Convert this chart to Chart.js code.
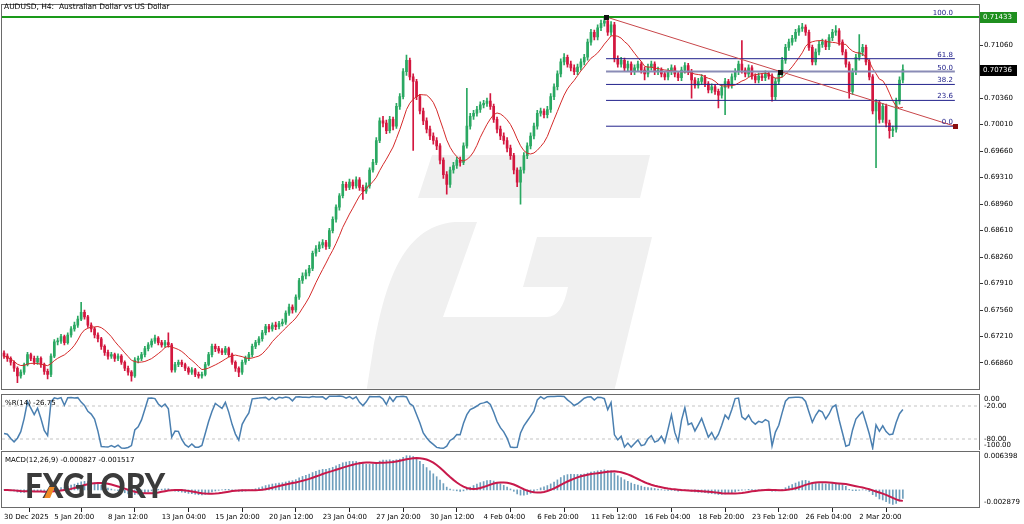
<!DOCTYPE html>
<html>
<head>
<meta charset="utf-8">
<script src="https://cdn.jsdelivr.net/npm/chart.js@4.4.1/dist/chart.umd.min.js"></script>
<style>
html,body{margin:0;padding:0;background:#fff;}
body{width:1024px;height:524px;position:relative;overflow:hidden;}
canvas{position:absolute;left:0;}
#main{top:0;} #wpr{top:394px;} #macdc{top:450px;}
</style>
</head>
<body>
<canvas id="main" width="1024" height="394"></canvas>
<canvas id="wpr" width="1024" height="56"></canvas>
<canvas id="macdc" width="1024" height="74"></canvas>
<script>
// ===== DATA (AUDUSD H4) =====
const open = [
.6699,.6695,.6692,.6687,.6679,.6669,.6674,.6684,.6697,.6692,
.6687,.6692,.6684,.6675,.6671,.6695,.6714,.6715,.6721,.6713,
.6723,.6731,.6736,.6744,.6753,.6747,.6736,.6731,.6723,.6718,
.6708,.6700,.6695,.6697,.6692,.6695,.6687,.6679,.6674,.6669,
.6690,.6692,.6697,.6705,.6710,.6715,.6719,.6713,.6710,.6713,
.6710,.6677,.6684,.6687,.6684,.6679,.6674,.6677,.6671,.6669,
.6671,.6684,.6697,.6708,.6705,.6702,.6700,.6705,.6697,.6687,
.6679,.6674,.6687,.6692,.6697,.6708,.6713,.6718,.6726,.6734,
.6731,.6736,.6734,.6738,.6740,.6752,.6760,.6756,.6773,.6795,
.6801,.6805,.6811,.6831,.6837,.6842,.6845,.6840,.6861,.6876,
.6892,.6907,.6922,.6918,.6925,.6920,.6928,.6918,.6913,.6920,
.6941,.6951,.6980,.7006,.7003,.6993,.7008,.6999,.7025,.7038,
.7071,.7086,.7064,.7058,.7038,.7019,.7006,.6995,.6986,.6980,
.6973,.6954,.6935,.6922,.6941,.6947,.6954,.6951,.6973,.6999,
.7012,.7016,.7021,.7027,.7029,.7032,.7025,.7008,.6995,.6986,
.6980,.6970,.6960,.6941,.6925,.6941,.6960,.6973,.6986,.6999,
.7016,.7019,.7014,.7021,.7038,.7051,.7068,.7084,.7090,.7081,
.7076,.7071,.7077,.7084,.7090,.7110,.7123,.7117,.7129,.7135,
.7138,.7123,.7133,.7088,.7081,.7086,.7076,.7081,.7071,.7076,
.7081,.7073,.7068,.7077,.7081,.7071,.7073,.7068,.7064,.7071,
.7076,.7068,.7063,.7073,.7079,.7071,.7060,.7053,.7058,.7063,
.7055,.7047,.7051,.7045,.7040,.7050,.7058,.7053,.7064,.7071,
.7081,.7073,.7068,.7076,.7065,.7060,.7065,.7063,.7068,.7065,
.7038,.7058,.7068,.7086,.7103,.7110,.7115,.7123,.7128,.7130,
.7123,.7103,.7084,.7097,.7107,.7110,.7104,.7116,.7123,.7125,
.7110,.7097,.7081,.7045,.7071,.7090,.7097,.7103,.7084,.7064,
.7019,.7030,.7008,.7025,.7003,.6993,.6995,.7032,.7060];
const high = [
.6702,.6698,.6694,.6689,.6681,.6677,.6686,.6700,.6699,.6695,
.6695,.6694,.6686,.6678,.6698,.6717,.6719,.6724,.6723,.6726,
.6734,.6740,.6748,.6766,.6756,.6749,.6739,.6733,.6726,.6720,
.6710,.6703,.6700,.6699,.6698,.6697,.6689,.6682,.6676,.6693,
.6695,.6700,.6708,.6713,.6718,.6723,.6721,.6716,.6716,.6726,
.6712,.6687,.6690,.6690,.6686,.6681,.6680,.6679,.6674,.6674,
.6687,.6700,.6711,.6711,.6708,.6705,.6708,.6707,.6699,.6689,
.6681,.6690,.6695,.6700,.6711,.6716,.6721,.6729,.6737,.6737,
.6739,.6740,.6741,.6744,.6755,.6764,.6763,.6776,.6798,.6805,
.6809,.6815,.6834,.6841,.6846,.6849,.6848,.6864,.6879,.6895,
.6910,.6926,.6925,.6929,.6928,.6932,.6931,.6921,.6924,.6944,
.6955,.6984,.7010,.7012,.7007,.7012,.7011,.7029,.7042,.7075,
.7093,.7089,.7068,.7061,.7041,.7023,.7010,.6999,.6990,.6984,
.6976,.6957,.6939,.6945,.6951,.6958,.6958,.6977,.7049,.7016,
.7020,.7025,.7031,.7033,.7036,.7042,.7028,.7011,.6999,.6990,
.6984,.6974,.6963,.6944,.6945,.6964,.6977,.6990,.7003,.7020,
.7023,.7022,.7025,.7042,.7055,.7072,.7088,.7095,.7093,.7085,
.7080,.7081,.7088,.7094,.7114,.7127,.7126,.7133,.7139,.71433,
.7141,.7137,.7136,.7092,.7090,.7089,.7085,.7084,.7080,.7085,
.7084,.7077,.7081,.7085,.7084,.7077,.7076,.7071,.7075,.7080,
.7079,.7071,.7077,.7083,.7082,.7074,.7063,.7062,.7067,.7066,
.7058,.7055,.7054,.7048,.7054,.7062,.7061,.7068,.7075,.7085,
.7112,.7076,.7080,.7079,.7068,.7069,.7068,.7072,.7071,.7068,
.7062,.7072,.7090,.7107,.7114,.7119,.7127,.7132,.7135,.7133,
.7126,.7106,.7101,.7111,.7114,.7113,.7120,.7127,.7132,.7128,
.7113,.7100,.7084,.7075,.7094,.7120,.7107,.7106,.7087,.7067,
.7034,.7033,.7029,.7028,.7007,.6999,.7036,.7064,.7080];
const low = [
.6692,.6688,.6683,.6675,.6660,.6666,.6671,.6682,.6689,.6684,
.6684,.6680,.6671,.6665,.6668,.6693,.6710,.6712,.6710,.6711,
.6720,.6728,.6733,.6742,.6744,.6733,.6727,.6719,.6714,.6704,
.6696,.6691,.6692,.6688,.6689,.6684,.6676,.6670,.6662,.6667,
.6686,.6689,.6694,.6702,.6707,.6712,.6710,.6707,.6707,.6707,
.6674,.6674,.6681,.6681,.6676,.6671,.6671,.6668,.6666,.6666,
.6669,.6682,.6694,.6701,.6699,.6697,.6697,.6694,.6684,.6675,
.6668,.6671,.6684,.6689,.6694,.6705,.6710,.6715,.6723,.6727,
.6728,.6730,.6731,.6735,.6737,.6749,.6752,.6753,.6770,.6791,
.6797,.6801,.6808,.6827,.6833,.6838,.6836,.6837,.6858,.6872,
.6888,.6904,.6914,.6915,.6916,.6917,.6914,.6902,.6910,.6917,
.6938,.6948,.6977,.6998,.6989,.6990,.6994,.6996,.7021,.7035,
.7066,.7060,.6967,.7034,.7015,.7001,.6990,.6981,.6975,.6968,
.6949,.6930,.6909,.6918,.6937,.6943,.6946,.6948,.6970,.6995,
.7008,.7012,.7017,.7023,.7025,.7021,.7004,.6990,.6981,.6975,
.6965,.6955,.6936,.6919,.6896,.6937,.6956,.6969,.6982,.6995,
.7012,.7010,.7010,.7017,.7034,.7047,.7064,.7080,.7077,.7072,
.7067,.7067,.7073,.7080,.7086,.7106,.7113,.7113,.7125,.7131,
.7119,.7119,.7084,.7077,.7077,.7072,.7072,.7067,.7067,.7072,
.7069,.7060,.7064,.7073,.7067,.7067,.7064,.7060,.7060,.7067,
.7064,.7059,.7059,.7069,.7067,.7036,.7049,.7049,.7054,.7051,
.7043,.7043,.7041,.7023,.7036,.7014,.7049,.7049,.7060,.7067,
.7069,.7064,.7064,.7061,.7056,.7056,.7059,.7059,.7061,.7032,
.7034,.7054,.7064,.7082,.7099,.7106,.7111,.7119,.7124,.7119,
.7099,.7080,.7080,.7093,.7103,.7100,.7100,.7112,.7119,.7106,
.7093,.7077,.7036,.7041,.7067,.7086,.7092,.7080,.7060,.7015,
.6944,.7003,.7004,.6998,.6983,.6985,.6991,.7028,.7056];
const close = [
.6695,.6692,.6687,.6679,.6669,.6674,.6684,.6697,.6692,.6687,
.6692,.6684,.6675,.6671,.6695,.6714,.6715,.6721,.6713,.6723,
.6731,.6736,.6744,.6753,.6747,.6736,.6731,.6723,.6718,.6708,
.6700,.6695,.6697,.6692,.6695,.6687,.6679,.6674,.6669,.6690,
.6692,.6697,.6705,.6710,.6715,.6719,.6713,.6710,.6713,.6710,
.6677,.6684,.6687,.6684,.6679,.6674,.6677,.6671,.6669,.6671,
.6684,.6697,.6708,.6705,.6702,.6700,.6705,.6697,.6687,.6679,
.6674,.6687,.6692,.6697,.6708,.6713,.6718,.6726,.6734,.6731,
.6736,.6734,.6738,.6740,.6752,.6760,.6756,.6773,.6795,.6801,
.6805,.6811,.6831,.6837,.6842,.6845,.6840,.6861,.6876,.6892,
.6907,.6922,.6918,.6925,.6920,.6928,.6918,.6913,.6920,.6941,
.6951,.6980,.7006,.7003,.6993,.7008,.6999,.7025,.7038,.7071,
.7086,.7064,.7058,.7038,.7019,.7006,.6995,.6986,.6980,.6973,
.6954,.6935,.6922,.6941,.6947,.6954,.6951,.6973,.6999,.7012,
.7016,.7021,.7027,.7029,.7032,.7025,.7008,.6995,.6986,.6980,
.6970,.6960,.6941,.6925,.6941,.6960,.6973,.6986,.6999,.7016,
.7019,.7014,.7021,.7038,.7051,.7068,.7084,.7090,.7081,.7076,
.7071,.7077,.7084,.7090,.7110,.7123,.7117,.7129,.7135,.7138,
.7123,.7133,.7088,.7081,.7086,.7076,.7081,.7071,.7076,.7081,
.7073,.7068,.7077,.7081,.7071,.7073,.7068,.7064,.7071,.7076,
.7068,.7063,.7073,.7079,.7071,.7060,.7053,.7058,.7063,.7055,
.7047,.7051,.7045,.7040,.7050,.7058,.7053,.7064,.7071,.7081,
.7073,.7068,.7076,.7065,.7060,.7065,.7063,.7068,.7065,.7038,
.7058,.7068,.7086,.7103,.7110,.7115,.7123,.7128,.7130,.7123,
.7103,.7084,.7097,.7107,.7110,.7104,.7116,.7123,.7125,.7110,
.7097,.7081,.7045,.7071,.7090,.7097,.7103,.7084,.7064,.7019,
.7030,.7008,.7025,.7003,.6993,.6995,.7032,.7060,.70736];

const xTickIdx = [0,15,31,47,63,79,95,111,127,143,159,175,191,207,223,239,255];
const xTickLabels = ['30 Dec 2025','5 Jan 20:00','8 Jan 12:00','13 Jan 04:00','15 Jan 20:00','20 Jan 12:00','23 Jan 04:00','27 Jan 20:00','30 Jan 12:00','4 Feb 04:00','6 Feb 20:00','11 Feb 12:00','16 Feb 04:00','18 Feb 20:00','23 Feb 12:00','26 Feb 04:00','2 Mar 20:00'];
const priceTicks = [0.66860,0.67210,0.67560,0.67910,0.68260,0.68610,0.68960,0.69310,0.69660,0.70010,0.70360,0.71060];
const wprTicks = [0,-20,-80,-100];
const macdTicks = [0.006398,-0.002879];

const hLinePrice = 0.71433;       // green horizontal line
const bidPrice = 0.70736;         // current price
const trendX = [179.5, 283.5];    // trend line anchors (bar index)
const trendY = [0.71433, 0.69989];
const fibX = [179.5, 283.5];
const fibLevels = ['0.0','23.6','38.2','50.0','61.8','100.0'];
const fibPrices = [0.69989, 0.70330, 0.70541, 0.70711, 0.70881, 0.71433];

const maPeriod = 10, wprPeriod = 14, macdFast = 12, macdSlow = 26, macdSig = 9;

// ===== indicators derived from the price data =====
const ma = close.map((_, i) => { const s = close.slice(Math.max(0, i - maPeriod + 1), i + 1); return s.reduce((a, b) => a + b, 0) / s.length; });
const wpr = close.map((c, i) => { const a = Math.max(0, i - wprPeriod + 1); const hh = Math.max(...high.slice(a, i + 1)); const ll = Math.min(...low.slice(a, i + 1)); return hh === ll ? -50 : -100 * (hh - c) / (hh - ll); });
function ema(arr, n) { const k = 2 / (n + 1); const out = []; arr.forEach((v, i) => out.push(i ? out[i - 1] + k * (v - out[i - 1]) : v)); return out; }
const eF = ema(close, macdFast), eS = ema(close, macdSlow);
const macd = close.map((_, i) => eF[i] - eS[i]);
const signal = macd.map((_, i) => { const s = macd.slice(Math.max(0, i - macdSig + 1), i + 1); return s.reduce((a, b) => a + b, 0) / s.length; });

// ===== styling =====
const FAM = '"DejaVu Sans", "Liberation Sans", sans-serif';
const FONT = '7px ' + FAM;
const UP = '#2aa862', DN = '#d3173f';
const X_MIN = -0.6, X_MAX = 290.7;
const pts = arr => arr.map((v, i) => ({ x: i, y: v }));
const seg = (x0, y0, x1, y1) => [{ x: x0, y: y0 }, { x: x1, y: y1 }];
const candleColors = close.map((c, i) => c >= open[i] ? UP : DN);
const hiddenX = { type: 'linear', min: X_MIN, max: X_MAX, display: false, offset: false };
const base = { responsive: false, animation: false, events: [], plugins: { legend: { display: false }, tooltip: { enabled: false } } };

const frame = { id: 'frame', afterDraw(c) { const a = c.chartArea, x = c.ctx; x.save(); x.strokeStyle = '#6a6a6a'; x.lineWidth = 1; x.strokeRect(Math.round(a.left) - 0.5, Math.round(a.top) - 0.5, Math.round(a.right - a.left) + 1, Math.round(a.bottom - a.top) + 1); x.restore(); } };

function sideLabels(values, fmt) {
  return { id: 'side', afterDraw(c) { const ctx = c.ctx, s = c.scales.y, a = c.chartArea; ctx.save(); ctx.font = FONT; ctx.fillStyle = '#000'; ctx.textBaseline = 'middle'; ctx.textAlign = 'left';
    values.forEach(v => { let y = s.getPixelForValue(v); y = Math.min(Math.max(y, a.top + 4), a.bottom - 5); ctx.fillText(fmt(v), a.right + 5, y); }); ctx.restore(); } };
}
function panelTitle(txt, y) { return { id: 'ptitle', afterDraw(c) { const ctx = c.ctx; ctx.save(); ctx.font = FONT; ctx.fillStyle = '#000'; ctx.textBaseline = 'middle'; ctx.fillText(txt, 5, y); ctx.restore(); } }; }

const watermark = { id: 'wm', beforeDatasetsDraw(c) {
  const ctx = c.ctx, a = c.chartArea; ctx.save(); ctx.beginPath(); ctx.rect(a.left, a.top, a.right - a.left, a.bottom - a.top); ctx.clip();
  ctx.fillStyle = '#f0f0f0';
  ctx.beginPath(); ctx.moveTo(432, 155); ctx.lineTo(650, 155); ctx.lineTo(640, 198); ctx.lineTo(418, 198); ctx.closePath(); ctx.fill();
  ctx.beginPath(); ctx.moveTo(477, 222); ctx.lineTo(455, 222); ctx.bezierCurveTo(400, 226, 384, 290, 373, 350); ctx.lineTo(365, 400);
  ctx.lineTo(612, 400); ctx.lineTo(652, 237); ctx.lineTo(537, 237); ctx.lineTo(523, 287); ctx.lineTo(568, 287);
  ctx.quadraticCurveTo(562, 317, 547, 317); ctx.lineTo(443, 317); ctx.closePath(); ctx.fill();
  ctx.restore(); } };

const mainOverlay = { id: 'mo',
  afterDatasetsDraw(c) {
    const ctx = c.ctx, xs = c.scales.x, ys = c.scales.y; ctx.save();
    ctx.font = FONT; ctx.fillStyle = '#20208a'; ctx.textAlign = 'right'; ctx.textBaseline = 'alphabetic';
    const xr = xs.getPixelForValue(fibX[1]) - 2;
    fibPrices.forEach((p, k) => ctx.fillText(fibLevels[k], xr, ys.getPixelForValue(p) - 2));
    const sq = (xv, yv, col) => { const px = xs.getPixelForValue(xv), py = ys.getPixelForValue(yv); ctx.fillStyle = col; ctx.fillRect(Math.round(px) - 2, Math.round(py) - 2, 5, 5); };
    sq(trendX[0], trendY[0], '#111'); sq((trendX[0] + trendX[1]) / 2, (trendY[0] + trendY[1]) / 2, '#111'); sq(trendX[1], trendY[1], '#8b1010');
    ctx.restore();
  },
  afterDraw(c) {
    const ctx = c.ctx, ys = c.scales.y, a = c.chartArea; ctx.save(); ctx.textBaseline = 'middle'; ctx.textAlign = 'left';
    ctx.font = '7.5px ' + FAM; ctx.fillStyle = '#000'; ctx.fillText('AUDUSD, H4:  Australian Dollar vs US Dollar', 4, 7.5);
    ctx.font = FONT;
    const box = (v, bg) => { const y = Math.round(ys.getPixelForValue(v)); ctx.fillStyle = bg; ctx.fillRect(a.right + 1, y - 5, 37, 11); ctx.fillStyle = '#fff'; ctx.fillText(v.toFixed(5), a.right + 4, y + 0.5); };
    box(hLinePrice, '#1f8f1f'); box(bidPrice, '#000');
    ctx.restore();
  } };

new Chart(document.getElementById('main'), {
  type: 'bar',
  data: { datasets: [
    { type: 'line', data: seg(X_MIN, hLinePrice, X_MAX, hLinePrice), borderColor: '#1a9a1a', borderWidth: 2, pointRadius: 0, order: 0 },
    { type: 'line', data: seg(trendX[0], trendY[0], trendX[1], trendY[1]), borderColor: '#c8464a', borderWidth: 1, pointRadius: 0, order: 1 },
    ...fibPrices.map((p, k) => ({ type: 'line', data: seg(fibX[0], p, fibX[1], p), borderColor: fibLevels[k] === '50.0' ? '#8a8cb6' : '#22228c', borderWidth: fibLevels[k] === '50.0' ? 2 : 1, pointRadius: 0, order: 2 })),
    { type: 'line', data: pts(ma), borderColor: '#d42a2a', borderWidth: 1, pointRadius: 0, order: 3 },
    { type: 'bar', data: close.map((c, i) => ({ x: i, y: [open[i], c] })), backgroundColor: candleColors, barThickness: 2, minBarLength: 1, grouped: false, borderWidth: 0, order: 4 },
    { type: 'bar', data: close.map((c, i) => ({ x: i, y: [low[i], high[i]] })), backgroundColor: candleColors, barThickness: 1, grouped: false, borderWidth: 0, order: 5 }
  ] },
  options: Object.assign({}, base, {
    layout: { padding: { left: 2, top: 2, right: 0, bottom: 1 } },
    scales: {
      x: hiddenX,
      y: { position: 'right', min: 0.66519, max: 0.71588, afterFit: s => { s.width = 45; },
        afterBuildTicks: s => { s.ticks = priceTicks.map(v => ({ value: v })); },
        ticks: { callback: v => Number(v).toFixed(5), font: { family: FAM, size: 7 }, color: '#000', padding: 1, autoSkip: false },
        grid: { drawOnChartArea: false, drawTicks: true, tickLength: 4, color: '#333' }, border: { display: false } }
    }
  }),
  plugins: [watermark, frame, mainOverlay]
});

new Chart(document.getElementById('wpr'), {
  type: 'line',
  data: { datasets: [
    { data: pts(wpr), borderColor: '#4a7fb0', borderWidth: 1.5, pointRadius: 0, order: 0 },
    { data: seg(X_MIN, -20, X_MAX, -20), borderColor: '#c4c4c4', borderWidth: 1, borderDash: [3, 3], pointRadius: 0, order: 1 },
    { data: seg(X_MIN, -80, X_MAX, -80), borderColor: '#c4c4c4', borderWidth: 1, borderDash: [3, 3], pointRadius: 0, order: 1 }
  ] },
  options: Object.assign({}, base, {
    layout: { padding: { left: 2, top: 1, right: 0, bottom: 0 } },
    scales: { x: hiddenX,
      y: { position: 'right', min: -100, max: 0, afterFit: s => { s.width = 45; }, ticks: { display: false }, grid: { display: false }, border: { display: false } } }
  }),
  plugins: [frame, sideLabels(wprTicks, v => v.toFixed(2)), panelTitle('%R(14) -26.75', 9)]
});

const logo = { id: 'logo', afterDraw(c) {
  const ctx = c.ctx; ctx.save();
  ctx.font = '900 34px Lato, "Liberation Sans", sans-serif';
  const w = ctx.measureText('FXGLORY').width, sx = 140 / w;
  const baseY = 48; // canvas top is 450
  ctx.translate(25, baseY); ctx.scale(sx, 1);
  ctx.fillStyle = '#3b3b3b'; ctx.fillText('FXGLORY', 0, 0);
  const wf = ctx.measureText('F').width, wx = ctx.measureText('X').width;
  ctx.fillStyle = '#f08a24'; ctx.beginPath();
  ctx.moveTo(wf + wx * 0.08, 0); ctx.lineTo(wf + wx * 0.36, 0); ctx.lineTo(wf + wx * 0.58, -11); ctx.lineTo(wf + wx * 0.32, -11); ctx.closePath(); ctx.fill();
  ctx.restore(); } };

new Chart(document.getElementById('macdc'), {
  type: 'bar',
  data: { datasets: [
    { type: 'line', data: pts(signal), borderColor: '#c8194b', borderWidth: 2, pointRadius: 0, order: 0 },
    { type: 'bar', data: pts(macd), backgroundColor: '#6f9fbd', barThickness: 1, grouped: false, borderWidth: 0, order: 1 }
  ] },
  options: Object.assign({}, base, {
    layout: { padding: { left: 2, top: 2, right: 0, bottom: 0 } },
    scales: {
      x: { type: 'linear', min: X_MIN, max: X_MAX, offset: false, afterFit: s => { s.height = 17; },
        afterBuildTicks: s => { s.ticks = xTickIdx.map(v => ({ value: v })); },
        ticks: { callback: v => xTickLabels[xTickIdx.indexOf(v)], align: 'start', autoSkip: false, maxRotation: 0, minRotation: 0, font: { family: FAM, size: 7 }, color: '#000', padding: 1 },
        grid: { drawOnChartArea: false, drawTicks: true, tickLength: 5, color: '#222' }, border: { display: false } },
      y: { position: 'right', min: macdTicks[1], max: macdTicks[0], afterFit: s => { s.width = 45; }, ticks: { display: false }, grid: { display: false }, border: { display: false } }
    }
  }),
  plugins: [frame, sideLabels(macdTicks, v => v.toFixed(6)), panelTitle('MACD(12,26,9) -0.000827 -0.001517', 10), logo]
});
</script>
</body>
</html>
